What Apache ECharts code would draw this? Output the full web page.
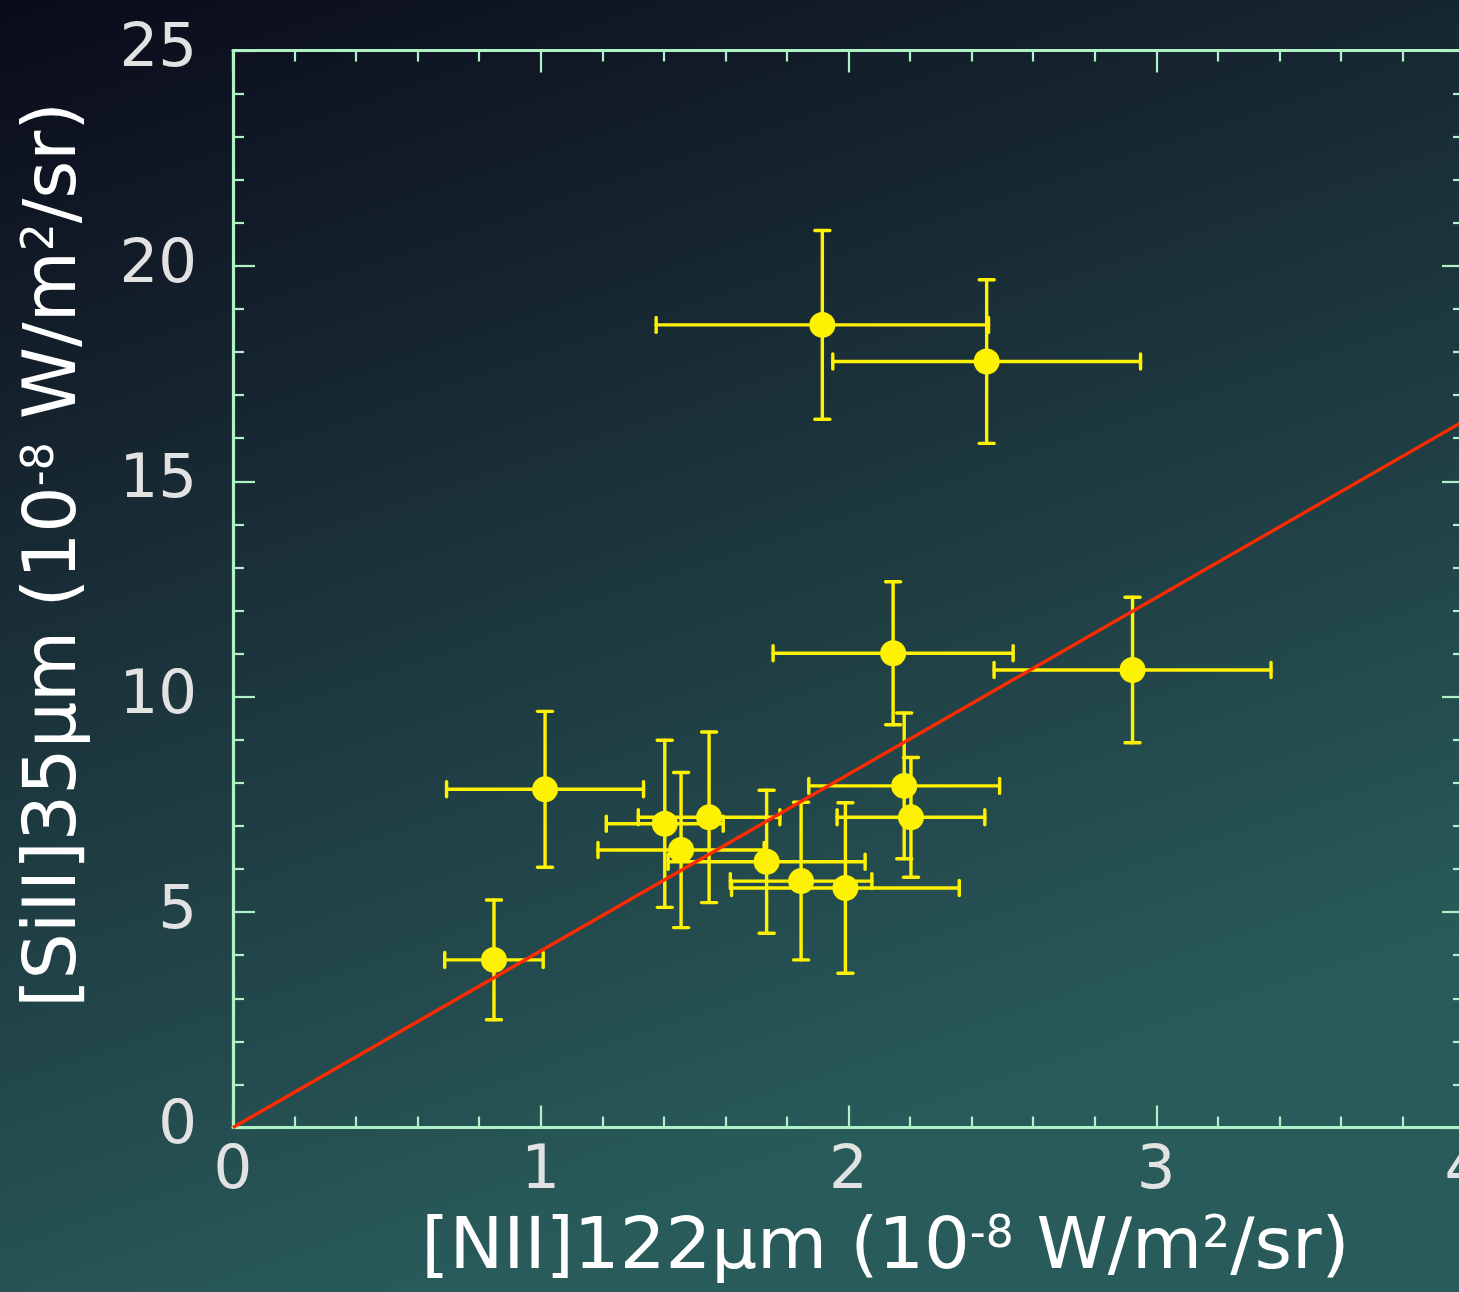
<!DOCTYPE html>
<html>
<head>
<meta charset="utf-8">
<title>[SiII]35μm vs [NII]122μm</title>
<script src="https://cdn.jsdelivr.net/npm/echarts@6/dist/echarts.min.js"></script>
<style>
  html, body { margin: 0; padding: 0; background: #14222c; }
  #chart { width: 1459px; height: 1292px; }
</style>
</head>
<body>
<div id="chart"></div>
<script>
// [NII]122um intensity (x) and [SiII]35um intensity (y), units of 1e-8 W/m^2/sr
const nIIValues  = [0.848, 1.014, 1.403, 1.547, 1.456, 1.734, 1.846, 1.990, 2.181, 2.203, 2.145, 2.923, 1.915, 2.449];
const siIIValues = [3.89, 7.85, 7.05, 7.20, 6.44, 6.17, 5.72, 5.56, 7.93, 7.20, 11.01, 10.62, 18.63, 17.78];
// one-sigma uncertainties
const nIIErrors  = [0.16, 0.32, 0.19, 0.23, 0.27, 0.32, 0.23, 0.37, 0.31, 0.24, 0.39, 0.45, 0.54, 0.50];
const siIIErrors = [1.39, 1.81, 1.94, 1.98, 1.80, 1.66, 1.83, 1.98, 1.69, 1.39, 1.66, 1.69, 2.19, 1.90];
// proportional fit through the origin, as its two end points
const fitLine = [[0, 0], [4, 16.4]];
// axis ranges and tick steps
const xRange = [0, 4], xStep = 1;
const yRange = [0, 25], yStep = 5;

const FONT = '"Comic Sans MS", "DejaVu Sans", sans-serif';
const AXIS_COLOR = '#aef2c5';
const MARK_COLOR = '#fff200';
const FIT_COLOR = '#ff2a00';

const points = nIIValues.map((x, i) => [x, siIIValues[i]]);
const errorData = nIIValues.map((x, i) => [x, siIIValues[i], nIIErrors[i], siIIErrors[i]]);

function frameAxis(extra) {
  return Object.assign({
    type: 'value',
    axisLine: { show: true, onZero: false, lineStyle: { color: AXIS_COLOR, width: 3.2 } },
    axisTick: { show: true, inside: true, length: 22, lineStyle: { color: AXIS_COLOR, width: 2.2 } },
    minorTick: { show: true, splitNumber: 5, length: 11, lineStyle: { color: AXIS_COLOR, width: 2.2 } },
    splitLine: { show: false },
    minorSplitLine: { show: false }
  }, extra);
}

const supRich = {
  sup: { fontSize: 44, verticalAlign: 'top', color: '#ffffff', fontFamily: FONT }
};

function renderErrorBars(params, api) {
  const x = api.value(0), y = api.value(1), ex = api.value(2), ey = api.value(3);
  const left = api.coord([x - ex, y]);
  const right = api.coord([x + ex, y]);
  const top = api.coord([x, y + ey]);
  const bottom = api.coord([x, y - ey]);
  const cap = 7.5;
  const style = { stroke: MARK_COLOR, lineWidth: 3.4, lineCap: 'round' };
  const seg = (x1, y1, x2, y2) => ({ type: 'line', shape: { x1, y1, x2, y2 }, style });
  return {
    type: 'group',
    children: [
      seg(left[0], left[1], right[0], right[1]),
      seg(left[0], left[1] - cap, left[0], left[1] + cap),
      seg(right[0], right[1] - cap, right[0], right[1] + cap),
      seg(top[0], top[1], bottom[0], bottom[1]),
      seg(top[0] - cap, top[1], top[0] + cap, top[1]),
      seg(bottom[0] - cap, bottom[1], bottom[0] + cap, bottom[1])
    ]
  };
}

const chart = echarts.init(document.getElementById('chart'), null, { renderer: 'canvas' });
chart.setOption({
  animation: false,
  backgroundColor: {
    type: 'linear', x: 0, y: 0, x2: 0.3, y2: 1,
    colorStops: [
      { offset: 0, color: '#0a0a1a' },
      { offset: 0.45, color: '#1a2f38' },
      { offset: 1, color: '#295b5b' }
    ]
  },
  grid: { left: 233, top: 50.5, width: 1231, height: 1077, outerBoundsMode: 'none', containLabel: false },
  xAxis: [
    frameAxis({
      position: 'bottom', min: xRange[0], max: xRange[1], interval: xStep,
      axisLabel: { show: true, margin: 14, color: '#e2e2e2', fontSize: 61, fontFamily: FONT, showMaxLabel: true },
      name: '[NII]122μm (10{sup|-8} W/m{sup|2}/sr)',
      nameLocation: 'middle', nameGap: 86,
      nameTextStyle: { color: '#ffffff', fontSize: 72, fontFamily: FONT, padding: [0, 0, 0, 74], rich: supRich }
    }),
    frameAxis({
      position: 'top', min: xRange[0], max: xRange[1], interval: xStep,
      axisLabel: { show: false }
    })
  ],
  yAxis: [
    frameAxis({
      position: 'left', min: yRange[0], max: yRange[1], interval: yStep,
      axisLabel: { show: true, margin: 36, color: '#e2e2e2', fontSize: 61, fontFamily: FONT, padding: [0, 0, 24, 0] },
      name: '[SiII]35μm (10{sup|-8} W/m{sup|2}/sr)',
      nameLocation: 'middle', nameGap: 140,
      nameTextStyle: { color: '#ffffff', fontSize: 73, fontFamily: FONT, padding: [0, 0, 0, 68], rich: supRich }
    }),
    frameAxis({
      position: 'right', min: yRange[0], max: yRange[1], interval: yStep,
      axisLabel: { show: false }
    })
  ],
  series: [
    {
      type: 'custom',
      renderItem: renderErrorBars,
      data: errorData,
      encode: { x: 0, y: 1 },
      z: 2,
      silent: true
    },
    {
      type: 'scatter',
      data: points,
      symbol: 'circle',
      symbolSize: 26,
      itemStyle: { color: MARK_COLOR, opacity: 1 },
      z: 3,
      silent: true
    },
    {
      type: 'line',
      data: fitLine,
      showSymbol: false,
      lineStyle: { color: FIT_COLOR, width: 3.4 },
      z: 4,
      silent: true
    }
  ]
});
</script>
</body>
</html>
